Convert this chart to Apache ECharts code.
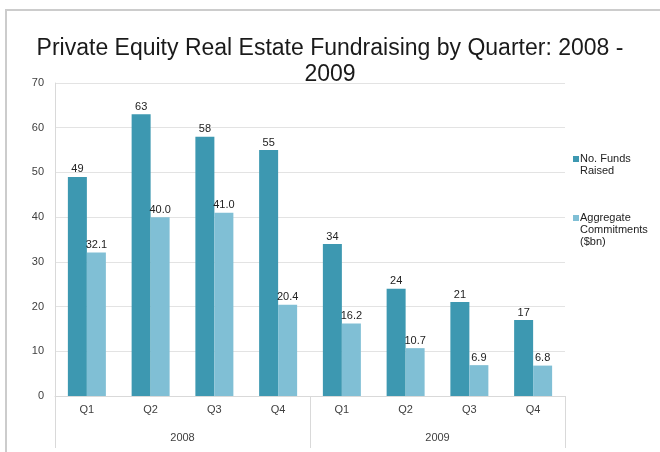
<!DOCTYPE html>
<html>
<head>
<meta charset="utf-8">
<title>Private Equity Real Estate Fundraising by Quarter</title>
<script src="https://cdn.jsdelivr.net/npm/echarts@6/dist/echarts.min.js"></script>
<style>
  html, body { margin: 0; padding: 0; background: #ffffff; }
  #chart { width: 660px; height: 452px; }
</style>
</head>
<body>
<div id="chart"></div>
<script>
// Quarter labels along the lower axis, years grouped beneath them
const quarters = ['Q1', 'Q2', 'Q3', 'Q4', 'Q1', 'Q2', 'Q3', 'Q4'];
const years = ['2008', '2009'];

// Series values per quarter
const fundsRaised = [49, 63, 58, 55, 34, 24, 21, 17];
const aggregateCommitments = [32.1, 40.0, 41.0, 20.4, 16.2, 10.7, 6.9, 6.8];

// Value axis ticks
const yTicks = [0, 10, 20, 30, 40, 50, 60, 70];

const FONT = '"Liberation Sans", Arial, sans-serif';
const chart = echarts.init(document.getElementById('chart'), null, { renderer: 'canvas' });

chart.setOption({
  backgroundColor: '#ffffff',
  animation: false,
  textStyle: { fontFamily: FONT },
  title: {
    text: 'Private Equity Real Estate Fundraising by Quarter: 2008 -\n2009',
    left: 'center',
    top: 36,
    padding: 0,
    textStyle: { fontFamily: FONT, fontSize: 23, fontWeight: 'normal', color: '#1a1a1a', lineHeight: 26 }
  },
  legend: {
    orient: 'vertical',
    left: 568,
    top: 136,
    itemWidth: 6,
    itemHeight: 6,
    itemGap: 11,
    icon: 'rect',
    selectedMode: false,
    textStyle: { fontFamily: FONT, fontSize: 11, color: '#222222', lineHeight: 12, padding: [0, 0, 0, -4] },
    formatter: function (name) {
      return name === 'No. Funds Raised'
        ? '\nNo. Funds\nRaised'
        : '\n\nAggregate\nCommitments\n($bn)';
    },
    data: ['No. Funds Raised', 'Aggregate Commitments ($bn)']
  },
  grid: { left: 55, right: 95, top: 83, bottom: 56, containLabel: false },
  xAxis: [
    {
      type: 'category',
      data: quarters,
      position: 'bottom',
      axisLine: { show: true, lineStyle: { color: '#d9d9d9', width: 1 } },
      axisTick: { show: false },
      axisLabel: { margin: 8, fontSize: 11, color: '#404040', fontFamily: FONT }
    },
    {
      type: 'category',
      data: years,
      position: 'bottom',
      axisLine: { show: false },
      axisTick: { show: true, length: 52, lineStyle: { color: '#d9d9d9', width: 1 } },
      axisLabel: { margin: 36, fontSize: 11, color: '#404040', fontFamily: FONT },
      splitLine: { show: false }
    }
  ],
  yAxis: {
    type: 'value',
    min: yTicks[0],
    max: yTicks[yTicks.length - 1],
    interval: 10,
    axisLine: { show: true, lineStyle: { color: '#d9d9d9', width: 1 } },
    axisTick: { show: false },
    axisLabel: { margin: 11, fontSize: 11, color: '#404040', fontFamily: FONT },
    splitLine: { show: true, lineStyle: { color: '#e3e3e3', width: 1 } }
  },
  series: [
    {
      name: 'No. Funds Raised',
      type: 'bar',
      xAxisIndex: 0,
      data: fundsRaised,
      barWidth: 19,
      barGap: '0%',
      itemStyle: { color: '#3d98b1' },
      label: {
        show: true, position: 'top', distance: 2,
        fontSize: 11, color: '#222222', fontFamily: FONT
      }
    },
    {
      name: 'Aggregate Commitments ($bn)',
      type: 'bar',
      xAxisIndex: 0,
      data: aggregateCommitments,
      barWidth: 19,
      barGap: '0%',
      itemStyle: { color: '#80bfd5' },
      label: {
        show: true, position: 'top', distance: 2,
        fontSize: 11, color: '#222222', fontFamily: FONT,
        formatter: function (p) { return p.value.toFixed(1); }
      }
    }
  ],
  graphic: [
    {
      type: 'polyline',
      silent: true,
      shape: { points: [[6, 452], [6, 10], [660, 10]] },
      style: { stroke: '#cccccc', lineWidth: 2, fill: null }
    }
  ]
});
</script>
</body>
</html>
